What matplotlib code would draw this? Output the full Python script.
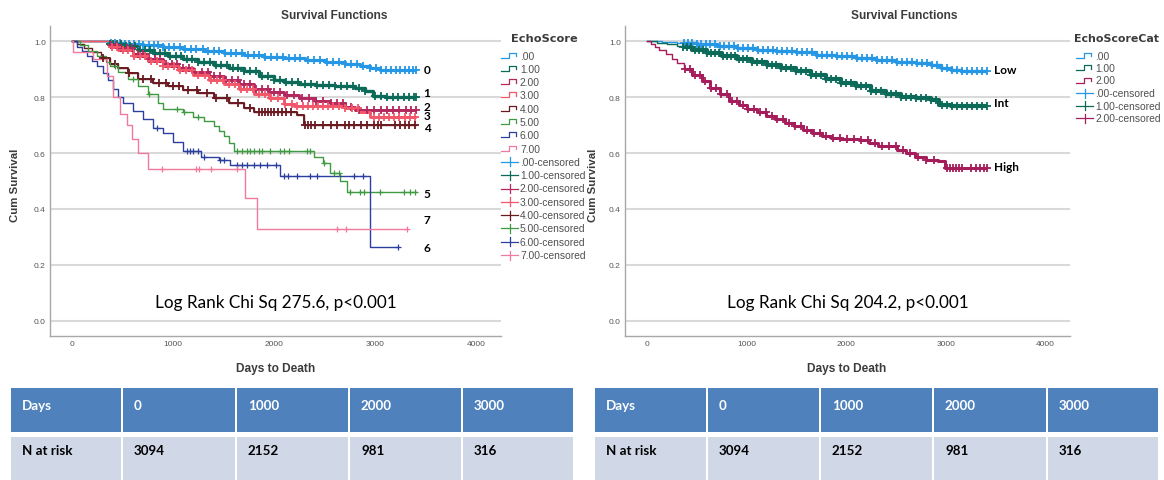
import numpy as np
import matplotlib
matplotlib.use("Agg")
import matplotlib.pyplot as plt
from matplotlib.patches import Rectangle
from matplotlib.transforms import Bbox, TransformedBbox

# ---------------- data ----------------
# Left panel: EchoScore 0..7  (step times in days, survival after each step)
t0 = [0, 360, 500, 700, 900, 1100, 1300, 1500, 1700, 1900, 2100, 2300, 2500, 2700, 2850, 2950, 3050, 3150]
s0 = [1.0, 0.995, 0.99, 0.985, 0.978, 0.972, 0.966, 0.958, 0.950, 0.944, 0.938, 0.932, 0.926, 0.918, 0.912, 0.905, 0.898, 0.895]
e0 = 3400
c0 = [380, 420, 470, 520, 560, 610, 660, 700, 760, 810, 850, 900, 960, 1010, 1070, 1120, 1180, 1230, 1290, 1340,
      1400, 1450, 1510, 1570, 1620, 1680, 1740, 1800, 1850, 1910, 1970, 2030, 2090, 2150, 2210, 2260, 2330, 2390,
      2450, 2520, 2580, 2640, 2700, 2760, 2820, 2880, 2950, 3010, 3060, 3110, 3160, 3210, 3250, 3290, 3330, 3370, 3400]

t1 = [0, 360, 500, 650, 800, 950, 1100, 1250, 1400, 1550, 1700, 1850, 2000, 2100, 2250, 2400, 2600, 2800, 2900, 2980, 3100]
s1 = [1.0, 0.99, 0.982, 0.97, 0.958, 0.947, 0.935, 0.925, 0.914, 0.903, 0.892, 0.877, 0.862, 0.853, 0.847, 0.842, 0.838, 0.832, 0.82, 0.805, 0.802]
e1 = 3400
c1 = [370, 400, 440, 480, 530, 570, 620, 670, 720, 770, 820, 870, 920, 970, 1030, 1080, 1140, 1190, 1250, 1300,
      1360, 1420, 1470, 1530, 1590, 1640, 1700, 1760, 1820, 1880, 1940, 2000, 2060, 2120, 2180, 2240, 2300, 2360,
      2420, 2480, 2540, 2600, 2660, 2720, 2780, 2840, 2900, 3000, 3060, 3120, 3180, 3230, 3280, 3330, 3380, 3400]

t2 = [0, 360, 450, 600, 750, 900, 1050, 1200, 1350, 1500, 1650, 1800, 1950, 2100, 2250, 2400, 2550, 2700, 2800]
s2 = [1.0, 0.985, 0.975, 0.955, 0.935, 0.918, 0.905, 0.89, 0.875, 0.86, 0.845, 0.83, 0.818, 0.808, 0.795, 0.787, 0.78, 0.765, 0.755]
e2 = 3400
c2 = [380, 430, 480, 540, 590, 650, 700, 760, 820, 870, 930, 990, 1040, 1100, 1160, 1220, 1280, 1340, 1400, 1460,
      1520, 1580, 1640, 1700, 1760, 1820, 1880, 1940, 2000, 2060, 2130, 2200, 2270, 2340, 2410, 2480, 2560, 2620,
      2680, 2760, 2840, 2920, 2990, 3060, 3120, 3180, 3240, 3300, 3350, 3400]

t3 = [0, 360, 450, 600, 750, 900, 1050, 1200, 1350, 1500, 1650, 1800, 1950, 2100, 2200, 2700, 2850, 2950]
s3 = [1.0, 0.98, 0.97, 0.948, 0.928, 0.91, 0.895, 0.878, 0.862, 0.845, 0.828, 0.812, 0.795, 0.777, 0.768, 0.762, 0.745, 0.728]
e3 = 3400
c3 = [390, 440, 500, 550, 610, 670, 720, 780, 840, 900, 950, 1010, 1070, 1130, 1190, 1250, 1310, 1370, 1430, 1490,
      1550, 1610, 1670, 1730, 1790, 1850, 1910, 1970, 2040, 2110, 2180, 2230, 2280, 2330, 2380, 2430, 2480, 2530,
      2580, 2640, 2700, 2770, 2830, 2990, 3040, 3090, 3140, 3190, 3240, 3290, 3340, 3390]

t4 = [0, 50, 120, 200, 280, 376, 450, 550, 650, 800, 950, 1100, 1250, 1400, 1550, 1700, 1800, 2230, 2290]
s4 = [1.0, 0.99, 0.975, 0.96, 0.94, 0.918, 0.905, 0.885, 0.865, 0.85, 0.838, 0.825, 0.815, 0.795, 0.78, 0.762, 0.745, 0.735, 0.70]
e4 = 3400
c4 = [300, 420, 560, 700, 780, 860, 930, 1000, 1060, 1150, 1240, 1330, 1420, 1530, 1640, 1760, 1850, 1880, 1910,
      1940, 1970, 2000, 2040, 2080, 2120, 2170, 2300, 2330, 2360, 2400, 2480, 2560, 2620, 2700, 2740, 2790, 2860,
      2920, 2990, 3030, 3060, 3200, 3250, 3290, 3330, 3390]

t5 = [0, 80, 160, 250, 330, 376, 450, 550, 650, 750, 850, 900, 1100, 1200, 1300, 1400, 1450, 1500, 1550, 1597,
      2390, 2480, 2554, 2650, 2720]
s5 = [1.0, 0.985, 0.965, 0.945, 0.925, 0.91, 0.89, 0.865, 0.84, 0.81, 0.78, 0.757, 0.746, 0.73, 0.715, 0.695,
      0.68, 0.66, 0.635, 0.608, 0.585, 0.565, 0.53, 0.50, 0.46]
e5 = 3400
c5 = [420, 600, 760, 1036, 1102, 1250, 1630, 1680, 1729, 1762, 1795, 1845, 1878, 1960, 2059, 2093, 2142, 2323,
      2356, 2488, 2587, 2637, 2752, 2851, 2884, 3049, 3280, 3346, 3396]

t6 = [0, 50, 100, 150, 200, 250, 300, 350, 400, 450, 500, 600, 700, 800, 900, 1000, 1100, 1270, 1450, 1564, 2060, 2950]
s6 = [1.0, 0.98, 0.965, 0.945, 0.93, 0.91, 0.885, 0.86, 0.83, 0.80, 0.78, 0.75, 0.72, 0.69, 0.67, 0.64, 0.608,
      0.585, 0.575, 0.558, 0.518, 0.264]
e6 = 3228
c6 = [838, 1135, 1168, 1200, 1250, 1300, 1460, 1500, 1630, 1680, 1730, 1800, 1860, 1930, 2020, 2100, 2140, 2230,
      2350, 2420, 2790, 2880, 3228]

t7 = [0, 10, 210, 340, 400, 470, 540, 590, 653, 752, 1713, 1832]
s7 = [1.0, 0.96, 0.935, 0.875, 0.80, 0.74, 0.70, 0.65, 0.60, 0.543, 0.44, 0.33]
e7 = 3317
c7 = [888, 1221, 1254, 1370, 1634, 2624, 2706, 3317]

left_times = [t0, t1, t2, t3, t4, t5, t6, t7]
left_surv = [s0, s1, s2, s3, s4, s5, s6, s7]
left_end = [e0, e1, e2, e3, e4, e5, e6, e7]
left_cens = [c0, c1, c2, c3, c4, c5, c6, c7]
left_band = [2.3, 2.4, 2.1, 2.1, 1.4, 0, 0, 0]
left_names = [".00", "1.00", "2.00", "3.00", "4.00", "5.00", "6.00", "7.00"]
left_tags = ["0", "1", "2", "3", "4", "5", "6", "7"]
left_tag_y = [0.897, 0.815, 0.765, 0.733, 0.692, 0.457, 0.263, 0.362]

# Right panel: EchoScoreCat Low / Int / High
tL = [0, 150, 300, 360, 500, 700, 900, 1100, 1300, 1500, 1700, 1900, 2100, 2300, 2500, 2700, 2850, 2950, 3050, 3150]
sL = [1.0, 0.998, 0.995, 0.993, 0.988, 0.982, 0.975, 0.97, 0.965, 0.96, 0.952, 0.946, 0.94, 0.932, 0.926, 0.92,
      0.914, 0.905, 0.898, 0.894]
eL = 3410
cL = [370, 410, 450, 500, 540, 590, 630, 680, 730, 770, 820, 870, 910, 960, 1010, 1060, 1110, 1160, 1210, 1260,
      1310, 1360, 1410, 1460, 1510, 1560, 1610, 1660, 1710, 1760, 1810, 1860, 1910, 1960, 2010, 2060, 2110, 2160,
      2210, 2260, 2310, 2360, 2410, 2460, 2510, 2560, 2610, 2660, 2710, 2760, 2810, 2860, 2910, 2960, 3010, 3060,
      3110, 3160, 3210, 3260, 3310, 3360, 3410]

tI = [0, 100, 200, 300, 360, 450, 600, 750, 900, 1050, 1200, 1350, 1500, 1650, 1800, 1950, 2100, 2250, 2400, 2550,
      2700, 2850, 2930, 3050]
sI = [1.0, 0.995, 0.99, 0.984, 0.978, 0.97, 0.958, 0.947, 0.936, 0.924, 0.915, 0.903, 0.892, 0.878, 0.865, 0.852,
      0.838, 0.822, 0.81, 0.802, 0.796, 0.79, 0.772, 0.768]
eI = 3410
cI = [365, 400, 440, 480, 520, 560, 600, 640, 680, 720, 760, 800, 840, 880, 920, 960, 1000, 1050, 1100, 1150, 1200,
      1250, 1300, 1350, 1400, 1450, 1500, 1550, 1600, 1650, 1700, 1750, 1800, 1850, 1900, 1950, 2000, 2050, 2100,
      2150, 2200, 2250, 2300, 2350, 2400, 2450, 2500, 2550, 2600, 2650, 2700, 2750, 2800, 2850, 2900, 2960, 3010,
      3060, 3110, 3160, 3210, 3260, 3310, 3360, 3410]

tH = [0, 40, 80, 120, 187, 250, 300, 374, 450, 550, 636, 730, 822, 920, 1009, 1100, 1196, 1290, 1383, 1480, 1570,
      1660, 1757, 1850, 1944, 2131, 2230, 2318, 2505, 2600, 2692, 2800, 2916, 2991]
sH = [1.0, 0.99, 0.98, 0.97, 0.953, 0.935, 0.92, 0.90, 0.88, 0.857, 0.834, 0.81, 0.786, 0.77, 0.756, 0.745, 0.732,
      0.72, 0.708, 0.696, 0.684, 0.672, 0.66, 0.652, 0.65, 0.645, 0.635, 0.624, 0.612, 0.60, 0.587, 0.575, 0.570, 0.546]
eH = 3410
cH = [380, 430, 480, 530, 580, 640, 690, 740, 800, 850, 900, 960, 1010, 1070, 1130, 1190, 1250, 1310, 1370, 1430,
      1490, 1550, 1610, 1680, 1740, 1800, 1870, 1940, 2010, 2080, 2150, 2220, 2290, 2360, 2430, 2500, 2570, 2640,
      2720, 2800, 2880, 3010, 3040, 3070, 3100, 3130, 3160, 3250, 3300, 3340, 3380, 3410]

right_times = [tL, tI, tH]
right_surv = [sL, sI, sH]
right_end = [eL, eI, eH]
right_cens = [cL, cI, cH]
right_band = [2.4, 3.0, 2.2]
right_names = [".00", "1.00", "2.00"]
right_tags = ["Low", "Int", "High"]
right_tag_y = [0.90, 0.78, 0.552]

left_colors = ["#2597e4", "#0b6a58", "#b3285e", "#f2576a", "#6b1a22", "#3f9a42", "#2b3f9e", "#f07a9e"]
right_colors = ["#2597e4", "#0b6a58", "#a51d5a"]

table_header = ["Days", "0", "1000", "2000", "3000"]
table_row = ["N at risk", "3094", "2152", "981", "316"]

left_stat = "Log Rank Chi Sq 275.6, p<0.001"
right_stat = "Log Rank Chi Sq 204.2, p<0.001"

# ---------------- figure ----------------
W, H = 1164, 481
fig = plt.figure(figsize=(W / 100, H / 100), dpi=100)
fig.patch.set_facecolor("white")

AX_FONT = "Liberation Sans"
CAL = "Lato"
GRAY = "#3c3c3c"


def px_rect(x0, y0, x1, y1):
    return [x0 / W, 1 - y1 / H, (x1 - x0) / W, (y1 - y0) / H]


def surv_at(times, surv, t):
    i = np.searchsorted(np.asarray(times), t, side="right") - 1
    return np.asarray(surv)[np.clip(i, 0, len(surv) - 1)]


def draw_panel(ax, times_l, surv_l, end_l, cens_l, band_l, colors, tags, tag_y, stat):
    ax.set_xlim(-220, 4245)
    ax.set_ylim(-0.054, 1.054)
    for y in [0.0, 0.2, 0.4, 0.6, 0.8, 1.0]:
        ax.axhline(y, color="#d9d9d9", lw=1.5, zorder=0)
    for times, surv, end, cens, band, col in zip(times_l, surv_l, end_l, cens_l, band_l, colors):
        tt = np.array(list(times) + [end], dtype=float)
        ss = np.array(list(surv) + [surv[-1]], dtype=float)
        ax.step(tt, ss, where="post", color=col, lw=1.0, zorder=3)
        cy = surv_at(times, surv, np.asarray(cens))
        if band > 0:
            # heavily censored stretch: drawn as a thick band
            start = cens[0]
            keep = tt > start
            bt = np.concatenate([[start], tt[keep]])
            bs = np.concatenate([[surv_at(times, surv, start)], ss[keep]])
            ax.step(bt, bs, where="post", color=col, lw=band, zorder=3, solid_capstyle="butt")
            ax.plot(cens, cy, linestyle="none", marker="+", ms=5.5, mew=1.3, color=col, zorder=4)
        else:
            ax.plot(cens, cy, linestyle="none", marker="+", ms=5, mew=0.9, color=col, zorder=4)
    for tag, ty in zip(tags, tag_y):
        ax.text(3480, ty, tag, fontsize=8.5, fontweight="bold", family=CAL, color="black",
                ha="left", va="center")
    ax.text(0.5, 0.11, stat, transform=ax.transAxes, fontsize=12.3, family=CAL, color="black",
            ha="center", va="center")
    ax.set_xticks([0, 1000, 2000, 3000, 4000])
    ax.set_xticklabels(["0", "1000", "2000", "3000", "4000"])
    ax.set_yticks([0.0, 0.2, 0.4, 0.6, 0.8, 1.0])
    ax.set_yticklabels(["0.0", "0.2", "0.4", "0.6", "0.8", "1.0"])
    ax.tick_params(length=0, labelsize=6, labelcolor="#555555", pad=3)
    for lab in ax.get_xticklabels() + ax.get_yticklabels():
        lab.set_family(AX_FONT)
    for sp in ["top", "right"]:
        ax.spines[sp].set_visible(False)
    for sp in ["left", "bottom"]:
        ax.spines[sp].set_color("#a8a8a8")
        ax.spines[sp].set_linewidth(1.0)
    ax.set_facecolor("none")


axL = fig.add_axes(px_rect(50, 27, 501, 337))
draw_panel(axL, left_times, left_surv, left_end, left_cens, left_band, left_colors, left_tags, left_tag_y, left_stat)
axR = fig.add_axes(px_rect(625, 27, 1070, 337))
draw_panel(axR, right_times, right_surv, right_end, right_cens, right_band, right_colors, right_tags, right_tag_y,
           right_stat)

# overlay in pixel coordinates for titles, legends and table
ov = fig.add_axes([0, 0, 1, 1])
ov.set_xlim(0, W)
ov.set_ylim(H, 0)
ov.axis("off")
ov.patch.set_alpha(0)

for cx in [334, 904]:
    ov.text(cx, 16, "Survival Functions", fontsize=8.6, fontweight="bold", family=AX_FONT,
            color=GRAY, ha="center", va="center")
for cx in [276, 847]:
    ov.text(cx, 369, "Days to Death", fontsize=8.6, fontweight="bold", family=AX_FONT,
            color=GRAY, ha="center", va="center")
for cx in [15, 593]:
    ov.text(cx, 185, "Cum Survival", fontsize=8.2, fontweight="bold", family=AX_FONT,
            color=GRAY, ha="center", va="center", rotation=90)


def legend(x0, y0, step, title, title_x, title_size, text_size, names, colors, clip_right=None):
    ov.text(title_x, 38.5, title, fontsize=title_size, fontweight="bold", family="DejaVu Sans", color=GRAY,
            ha="left", va="center")
    entries = []
    for n, c in zip(names, colors):
        entries.append((n, c, False))
    for n, c in zip(names, colors):
        entries.append((n + "-censored", c, True))
    for k, (n, c, cen) in enumerate(entries):
        y = y0 + k * step
        if cen:
            ov.plot([x0, x0 + 17], [y, y], color=c, lw=0.9)
            ov.plot([x0 + 8.5, x0 + 8.5], [y - 4.5, y + 4.5], color=c, lw=0.9)
        else:
            ov.plot([x0, x0 + 8, x0 + 8, x0 + 15, x0 + 15], [y + 2, y + 2, y - 3, y - 3, y + 0.5],
                    color=c, lw=0.9)
        t = ov.text(x0 + 19, y, n, fontsize=text_size, family=AX_FONT, color="#505050", ha="left", va="center")
        if clip_right is not None:
            t.set_clip_box(TransformedBbox(Bbox.from_extents(0, 0, clip_right / 100, H / 100),
                                           fig.dpi_scale_trans))
            t.set_clip_on(True)


legend(501, 56.5, 13.3, "EchoScore", 511, 8.2, 7.4, left_names, left_colors, clip_right=585)
legend(1076, 56.5, 12.5, "EchoScoreCat", 1074, 7.9, 7.4, right_names, right_colors)

# at-risk tables
HEAD = "#4f81bd"
BODY = "#d0d8e8"
for edges in ([10, 122, 236, 349, 462, 574], [594, 707, 820, 933, 1047, 1159]):
    for j in range(5):
        xa, xb = edges[j] + 1, edges[j + 1] - 1
        ov.add_patch(Rectangle((xa, 389), xb - xa, 44, facecolor=HEAD, edgecolor="none"))
        ov.add_patch(Rectangle((xa, 438), xb - xa, 43, facecolor=BODY, edgecolor="none"))
        ov.text(edges[j] + 12, 406.5, table_header[j], fontsize=9.6, fontweight="bold", family=CAL,
                color="white", ha="left", va="center")
        ov.text(edges[j] + 12, 451.5, table_row[j], fontsize=9.6, fontweight="bold", family=CAL,
                color="black", ha="left", va="center")

fig.savefig("out.png", dpi=100, facecolor="white")
